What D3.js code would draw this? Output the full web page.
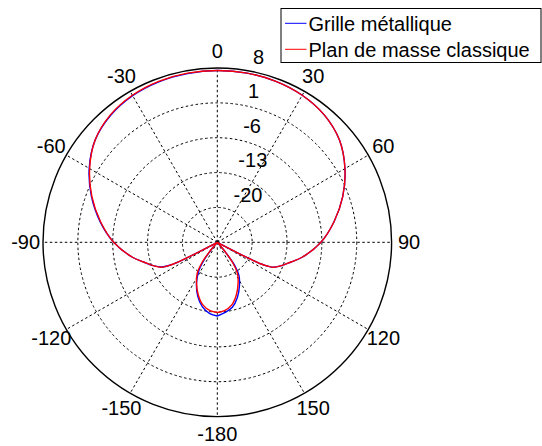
<!DOCTYPE html>
<html><head><meta charset="utf-8">
<script src="https://cdn.jsdelivr.net/npm/d3@7"></script>
<style>
html,body{margin:0;padding:0;background:#fff;}
svg{display:block;font-family:"Liberation Sans",Arial,sans-serif;}
</style></head>
<body>
<svg id="chart" width="542" height="446"></svg>
<script>
// ---- data ----
const angles = [-180,-174,-167,-160,-153,-147,-143,-140.5,-139,-118,-117,-116,-114,-110,-105,-100,-90,-80,-70,-60,-50,-40,-30,-20,-10,0,10,20,30,40,50,60,70,80,90,100,105,110,114,116,117,118,139,140.5,143,147,153,160,167,174,180];
const grilleDb = [-12.2,-12.6,-13.7,-15.5,-17.8,-20.2,-22.8,-25.0,-27,-27,-19.6,-16.8,-14.8,-13.3,-11.7,-9.7,-6.2,-3.1,-0.1,2.7,5.0,6.3,7.0,7.3,7.4,7.5,7.5,7.4,7.1,6.4,5.0,2.6,-0.2,-3.2,-6.2,-9.7,-11.7,-13.3,-14.7,-16.6,-19.4,-27,-27,-24.2,-21.2,-19.0,-17.2,-15.2,-13.6,-12.8,-12.2];
const planDb   = [-12.9,-13.2,-14.1,-15.8,-17.8,-19.6,-21.8,-24.6,-27,-27,-19.4,-16.6,-14.7,-13.3,-11.7,-9.7,-6.2,-3.2,-0.2,2.6,5.0,6.4,7.1,7.4,7.5,7.5,7.5,7.4,7.1,6.4,5.0,2.6,-0.2,-3.2,-6.2,-9.7,-11.7,-13.3,-14.7,-16.6,-19.4,-27,-27,-24.6,-21.8,-19.6,-17.8,-15.8,-14.1,-13.2,-12.9];
const ringTicks = [-20,-13,-6,1,8];
const ringLabels = ["-20","-13","-6","1","8"];
const angleTicks = [0,30,60,90,120,150,180,210,240,270,300,330];
const angleLabels = ["0","30","60","90","120","150","-180","-150","-120","-90","-60","-30"];
const seriesNames = ["Grille métallique","Plan de masse classique"];
const seriesColors = ["#0000ff","#ff0000"];

// ---- layout ----
const cx = 217.3, cy = 242.3, R = 174.3, fs = 20;
const svg = d3.select("#chart");
const g = svg.append("g").attr("transform",`translate(${cx},${cy})`);
const r = d3.scaleLinear().domain([-27, 8]).range([0, R]).clamp(true);
const rad = d => d*Math.PI/180;

// inner dashed rings
g.selectAll("circle.ring").data(ringTicks.slice(0,4)).join("circle")
  .attr("class","ring").attr("r", d=>r(d)).attr("fill","none")
  .attr("stroke","#000").attr("stroke-width",1).attr("stroke-dasharray","2.5,2.5");
// spokes
g.selectAll("line.spoke").data(angleTicks).join("line")
  .attr("x1",0).attr("y1",0)
  .attr("x2",d=>R*Math.sin(rad(d))).attr("y2",d=>-R*Math.cos(rad(d)))
  .attr("stroke","#000").attr("stroke-width",1).attr("stroke-dasharray","2.5,2.5");
// outer circle
g.append("circle").attr("r",R).attr("fill","none").attr("stroke","#000").attr("stroke-width",1.4);

// ring labels
const la = rad(8);
g.selectAll("text.rl").data(ringTicks).join("text")
  .attr("x",(d)=>(r(d)+1.75)*Math.sin(la)+0.556*fs)
  .attr("y",(d)=>-(r(d)+1.75)*Math.cos(la)-0.21*fs)
  .attr("font-size",fs).attr("fill","#000")
  .text((d,i)=>ringLabels[i]);

// angle labels
g.selectAll("text.al").data(angleTicks).join("text")
  .attr("x",d=>1.1*R*Math.sin(rad(d)))
  .attr("y",d=>-1.1*R*Math.cos(rad(d)))
  .attr("text-anchor","middle").attr("dominant-baseline","central")
  .attr("font-size",fs).attr("fill","#000")
  .text((d,i)=>angleLabels[i]);

// series
const line = d3.lineRadial().curve(d3.curveCatmullRom.alpha(0.5))
  .angle(d=>rad(d[0])).radius(d=>r(d[1]));
[grilleDb, planDb].forEach((vals,k)=>{
  g.append("path").datum(angles.map((a,i)=>[a,vals[i]]))
   .attr("d",line).attr("fill","none")
   .attr("stroke",seriesColors[k]).attr("stroke-width",1.4);
});

// legend
const lg = svg.append("g");
lg.append("rect").attr("x",281).attr("y",8.5).attr("width",260).attr("height",54)
  .attr("fill","#fff").attr("stroke","#000").attr("stroke-width",1);
seriesNames.forEach((n,i)=>{
  const y = 23.3 + i*26;
  lg.append("line").attr("x1",285).attr("x2",306.5).attr("y1",y).attr("y2",y)
    .attr("stroke",seriesColors[i]).attr("stroke-width",1);
  lg.append("text").attr("x",308.5).attr("y",y+7.4).attr("font-size",fs).attr("fill","#000").text(n);
});
</script>
</body></html>
